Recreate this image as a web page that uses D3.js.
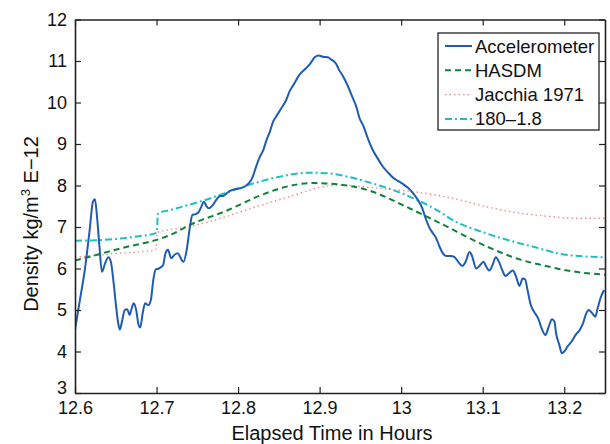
<!DOCTYPE html>
<html>
<head>
<meta charset="utf-8">
<script src="https://cdn.jsdelivr.net/npm/d3@7"></script>
<style>
  body { margin: 0; background: #fff; }
  svg text { font-family: "Liberation Sans", Arial, Helvetica, sans-serif; fill: #111; }
</style>
</head>
<body>
<svg id="chart" width="610" height="444"></svg>
<script>
// accelerometer trace (hours, density E-12)
const accelTime = [12.600, 12.606, 12.612, 12.618, 12.622, 12.6245, 12.627, 12.630, 12.633, 12.637,
  12.641, 12.644, 12.647, 12.650, 12.653, 12.655, 12.658, 12.661, 12.664, 12.667,
  12.669, 12.672, 12.675, 12.678, 12.680, 12.683, 12.686, 12.690, 12.693, 12.696,
  12.699, 12.703, 12.706, 12.708, 12.711, 12.714, 12.718, 12.722, 12.726, 12.731,
  12.733, 12.737, 12.741, 12.744, 12.748, 12.752, 12.755, 12.758, 12.761, 12.764,
  12.769, 12.773, 12.778, 12.782, 12.786, 12.790, 12.796, 12.802, 12.808, 12.813,
  12.818, 12.822, 12.826, 12.831, 12.835, 12.839, 12.843, 12.847, 12.853, 12.859,
  12.863, 12.869, 12.875, 12.882, 12.887, 12.891, 12.894, 12.899, 12.904, 12.910,
  12.914, 12.920, 12.924, 12.929, 12.935, 12.940, 12.945, 12.949, 12.954, 12.959,
  12.965, 12.971, 12.977, 12.984, 12.990, 12.996, 13.002, 13.008, 13.014, 13.020,
  13.026, 13.030, 13.035, 13.039, 13.043, 13.047, 13.051, 13.055, 13.061, 13.065,
  13.070, 13.075, 13.079, 13.084, 13.087, 13.092, 13.096, 13.101, 13.104, 13.108,
  13.112, 13.116, 13.120, 13.124, 13.128, 13.132, 13.137, 13.141, 13.145, 13.149,
  13.152, 13.155, 13.159, 13.163, 13.168, 13.173, 13.177, 13.181, 13.185, 13.188,
  13.190, 13.194, 13.197, 13.200, 13.204, 13.209, 13.214, 13.219, 13.223, 13.227,
  13.230, 13.234, 13.238, 13.241, 13.245, 13.249];
const accelDensity = [4.52, 5.24, 5.96, 6.93, 7.61, 7.67, 7.25, 6.53, 5.92, 6.13,
  6.27, 6.16, 5.72, 5.16, 4.68, 4.53, 4.76, 5.00, 5.02, 4.88,
  5.00, 5.16, 5.00, 4.64, 4.58, 4.92, 5.16, 5.12, 5.24, 5.72,
  5.98, 6.00, 6.04, 6.08, 6.37, 6.45, 6.25, 6.33, 6.37, 6.20,
  6.16, 6.45, 7.01, 7.29, 7.31, 7.37, 7.49, 7.61, 7.51, 7.45,
  7.53, 7.65, 7.75, 7.75, 7.81, 7.87, 7.91, 7.93, 7.97, 8.05,
  8.21, 8.45, 8.66, 8.86, 9.10, 9.30, 9.54, 9.67, 9.86, 10.06,
  10.26, 10.46, 10.66, 10.80, 10.90, 11.01, 11.09, 11.13, 11.10, 11.09,
  11.04, 10.94, 10.78, 10.62, 10.38, 10.14, 9.90, 9.62, 9.42, 9.14,
  8.86, 8.66, 8.47, 8.31, 8.19, 8.11, 8.04, 7.95, 7.83, 7.67,
  7.45, 7.21, 6.97, 6.85, 6.73, 6.53, 6.37, 6.30, 6.30, 6.28,
  6.16, 6.06, 6.16, 6.40, 6.30, 6.00, 6.06, 6.16, 6.06, 5.95,
  6.08, 6.27, 6.16, 5.96, 5.82, 5.88, 5.95, 5.80, 5.58, 5.76,
  5.74, 5.48, 5.12, 4.96, 4.80, 4.52, 4.40, 4.60, 4.78, 4.72,
  4.44, 4.16, 3.96, 4.00, 4.12, 4.24, 4.40, 4.52, 4.68, 4.92,
  5.00, 4.93, 4.84, 5.04, 5.32, 5.48];

// HASDM model
const hasdmTime = [12.600, 12.655, 12.717, 12.741, 12.788, 12.826, 12.855, 12.892, 12.937, 12.965,
  13.006, 13.047, 13.104, 13.145, 13.173, 13.214, 13.250];
const hasdmDensity = [6.19, 6.48, 6.81, 7.05, 7.41, 7.75, 7.95, 8.06, 7.99, 7.85,
  7.49, 7.10, 6.54, 6.22, 6.08, 5.92, 5.85];

// Jacchia 1971 model
const jacchiaTime = [12.600, 12.650, 12.699, 12.701, 12.728, 12.753, 12.790, 12.822, 12.863, 12.904,
  12.925, 12.965, 13.006, 13.040, 13.070, 13.104, 13.140, 13.174, 13.215, 13.250];
const jacchiaDensity = [6.27, 6.36, 6.45, 6.87, 6.97, 7.07, 7.28, 7.49, 7.73, 7.97,
  8.01, 7.95, 7.87, 7.78, 7.66, 7.49, 7.35, 7.27, 7.21, 7.21];

// 180-1.8 model
const modelTime = [12.600, 12.635, 12.675, 12.700, 12.702, 12.717, 12.753, 12.826, 12.855, 12.888,
  12.917, 12.937, 12.965, 13.006, 13.047, 13.063, 13.104, 13.145, 13.161, 13.202, 13.249];
const modelDensity = [6.67, 6.69, 6.77, 6.86, 7.33, 7.41, 7.61, 8.09, 8.23, 8.31,
  8.28, 8.20, 8.05, 7.77, 7.37, 7.17, 6.85, 6.61, 6.53, 6.33, 6.27];

const xTicks = [12.6, 12.7, 12.8, 12.9, 13, 13.1, 13.2];
const yTicks = [3, 4, 5, 6, 7, 8, 9, 10, 11, 12];
const seriesNames = ["Accelerometer", "HASDM", "Jacchia 1971", "180\u20131.8"];

const svg = d3.select("#chart");
const plot = { left: 75, right: 605, top: 19.5, bottom: 393 };

const x = d3.scaleLinear().domain([12.6, 13.25]).range([plot.left, plot.right]);
const y = d3.scaleLinear().domain([3, 12]).range([plot.bottom, plot.top]);

svg.append("clipPath").attr("id", "clip")
  .append("rect")
  .attr("x", plot.left).attr("y", plot.top)
  .attr("width", plot.right - plot.left).attr("height", plot.bottom - plot.top);

// series styles
const styles = [
  { color: "#1f5cb0", width: 2, dash: null },
  { color: "#11823b", width: 2, dash: "6,4" },
  { color: "#f58a8a", width: 1.4, dash: "1.5,3" },
  { color: "#1cc0c4", width: 2, dash: "7,3,2,3" }
];

const zip = (xs, ys) => xs.map((t, i) => ({ t: t, v: ys[i] }));
const series = [
  zip(accelTime, accelDensity),
  zip(hasdmTime, hasdmDensity),
  zip(jacchiaTime, jacchiaDensity),
  zip(modelTime, modelDensity)
];

const line = d3.line()
  .x(d => x(d.t))
  .y(d => y(d.v))
  .curve(d3.curveMonotoneX);

const lines = svg.append("g").attr("clip-path", "url(#clip)");
// draw models first, accelerometer on top
[3, 2, 1, 0].forEach(i => {
  lines.append("path")
    .datum(series[i])
    .attr("d", line)
    .attr("fill", "none")
    .attr("stroke", styles[i].color)
    .attr("stroke-width", styles[i].width)
    .attr("stroke-dasharray", styles[i].dash)
    .attr("stroke-linejoin", "round");
});

// axes, ticks point inward like matlab
const fmt = d => +d.toFixed(1);
const axisStyle = g => {
  g.select(".domain").attr("stroke", "#222").attr("stroke-width", 1.6);
  g.selectAll(".tick line").attr("stroke", "#222").attr("stroke-width", 1.2);
  g.selectAll("text").style("font-size", "18px").attr("fill", "#111");
};

svg.append("g")
  .attr("transform", `translate(0, ${plot.bottom})`)
  .call(d3.axisBottom(x).tickValues(xTicks).tickFormat(fmt).tickSizeInner(-6).tickSizeOuter(0).tickPadding(8))
  .call(axisStyle);

svg.append("g")
  .attr("transform", `translate(0, ${plot.top})`)
  .call(d3.axisTop(x).tickValues(xTicks).tickFormat("").tickSizeInner(-6).tickSizeOuter(0))
  .call(axisStyle);

const yAxis = svg.append("g")
  .attr("transform", `translate(${plot.left}, 0)`)
  .call(d3.axisLeft(y).tickValues(yTicks).tickFormat(fmt).tickSizeInner(-6).tickSizeOuter(0).tickPadding(8))
  .call(axisStyle);
// lowest label sits a little higher, as in the original
yAxis.selectAll(".tick text").filter(d => d === 3).attr("dy", "0.05em");

svg.append("g")
  .attr("transform", `translate(${plot.right}, 0)`)
  .call(d3.axisRight(y).tickValues(yTicks).tickFormat("").tickSizeInner(-6).tickSizeOuter(0))
  .call(axisStyle);

// axis labels
svg.append("text")
  .attr("x", (plot.left + plot.right) / 2 - 8)
  .attr("y", 440)
  .attr("text-anchor", "middle")
  .style("font-size", "20px")
  .text("Elapsed Time in Hours");

const yLabel = svg.append("text")
  .attr("transform", "translate(38, 224) rotate(-90)")
  .attr("text-anchor", "middle")
  .style("font-size", "20px");
yLabel.append("tspan").text("Density kg/m");
yLabel.append("tspan").attr("dy", -8).style("font-size", "13px").text("3");
yLabel.append("tspan").attr("dy", 8).text(" E\u221212");

// legend
const legend = svg.append("g").attr("transform", "translate(438, 33)");
legend.append("rect")
  .attr("width", 161).attr("height", 97)
  .attr("fill", "#fff")
  .attr("stroke", "#222").attr("stroke-width", 1.3);

seriesNames.forEach((name, i) => {
  const row = legend.append("g").attr("transform", `translate(0, ${13 + i * 24.3})`);
  row.append("line")
    .attr("x1", 7).attr("x2", 34)
    .attr("stroke", styles[i].color)
    .attr("stroke-width", styles[i].width)
    .attr("stroke-dasharray", styles[i].dash);
  row.append("text")
    .attr("x", 37).attr("y", 6.5)
    .style("font-size", "18.5px")
    .text(name);
});
</script>
</body>
</html>
